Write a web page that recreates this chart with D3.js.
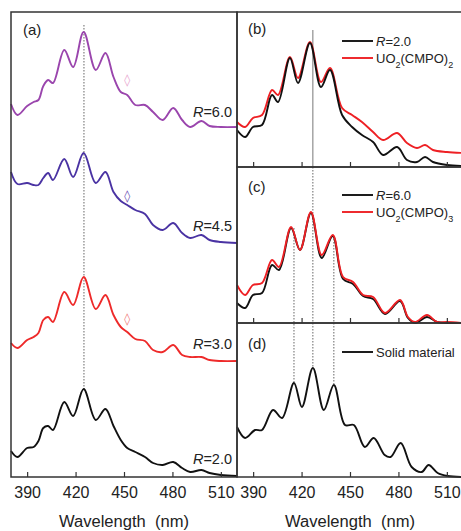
<!DOCTYPE html>
<meta charset="utf-8">
<script src="https://d3js.org/d3.v7.js"></script>
<style>
  body { margin: 0; background: #fff; }
  text { font-family: "Liberation Sans", Arial, sans-serif; fill: #222; }
</style>
<svg id="chart" width="461" height="531"></svg>

<script>
    // ---- data (intensity in arbitrary units) ----
    const ticks = [390, 420, 450, 480, 510];

    // panel (a): four stacked spectra on a shared wavelength grid
    const wlA = [380, 384, 390, 394, 397, 400, 403, 406, 413, 418.5, 425, 432.5, 438.5, 443.5, 448, 452, 457, 463, 468, 474, 480.5, 486, 491, 498, 503, 510, 520];
    const r60 = [23, 12, 21, 25, 27, 41, 47, 44, 77, 60, 95, 57, 74, 50, 35, 32, 22, 22, 15, 7, 19, 7, 0, 6, 1, 0, 0];
    const r45 = [71, 59, 60, 58, 58, 65, 70, 63, 84, 66, 90, 60, 71, 51, 42, 38, 33, 29, 18, 13, 20, 10, 5, 8, 3, 1, 0];
    const r30 = [18, 13, 21, 24, 28, 41, 44, 39, 69, 56, 84, 52, 66, 46, 34, 29, 22, 20, 11, 9, 16, 6, 4, 4, 1, 0, 0];
    const r20 = [26, 20, 29, 30, 36, 49, 51, 47, 75, 61, 88, 57, 68, 51, 37, 29, 25, 20, 14, 12, 15, 9, 5, 7, 4, 2, 1];
    const offsetsA = {r20: 0, r30: 116, r45: 234, r60: 350};
    const markA = 425.2;

    // panel (b)
    const wlB = [380, 385, 389.9, 395.5, 401.7, 405.4, 412.8, 417.8, 425.2, 432, 437.6, 445.1, 451.3, 457.4, 464.3, 470.5, 479.2, 485.3, 491.5, 496.5, 501.4, 510.1, 520];
    const bR20 = [37, 30, 40, 42, 72, 65, 109, 84, 124, 80, 97, 52, 40, 32, 25, 12, 20, 7, 5, 10, 5, 2, 1];
    const bUO2 = [45, 40, 49, 52, 77, 72, 110, 89, 125, 85, 99, 59, 52, 45, 35, 27, 34, 24, 19, 22, 17, 15, 14];

    // panel (c)
    const wlC = [380, 385, 389.9, 395.5, 401.7, 406, 413.5, 419, 425.8, 432.5, 439.3, 445.7, 451.9, 458.1, 464.3, 471.7, 481, 485.9, 490.3, 497.7, 503.9, 510.1, 520];
    const cR60 = [20, 15, 28, 30, 58, 53, 95, 73, 110, 65, 87, 44, 39, 27, 24, 9, 22, 5, 0, 6, 1, 0, 0];
    const cUO3 = [38, 28, 38, 40, 63, 56, 96, 73, 111, 68, 88, 46, 41, 28, 26, 10, 23, 6, 1, 8, 1, 1, 0];

    // panel (d)
    const wlD = [380, 385, 391.2, 395.5, 402.3, 407.9, 415.3, 420.2, 427, 433.8, 440, 446.9, 452.4, 459.2, 464.7, 471.5, 475.2, 481.4, 488.2, 494.4, 498.7, 504.3, 510.5, 520];
    const dSolid = [50, 39, 47, 47, 67, 59, 94, 70, 109, 67, 92, 52, 52, 30, 39, 22, 20, 34, 10, 5, 12, 4, 1, 0];
    const marksD = [415.3, 427, 440];

    // ---- layout ----
    const svg = d3.select('#chart');
    const W = 461, H = 531;
    const xA = d3.scaleLinear().domain([380, 520]).range([11, 237]);
    const xR = d3.scaleLinear().domain([380, 520]).range([237, 463]);
    const yA = d3.scaleLinear().domain([0, 465]).range([477, 12]);
    const yB = d3.scaleLinear().domain([0, 155]).range([167, 12]);
    const yC = d3.scaleLinear().domain([0, 156]).range([323, 167]);
    const yD = d3.scaleLinear().domain([0, 154]).range([477, 323]);

    const colors = {r60: '#9a45ad', r45: '#4a33a3', r30: '#ee2a2a', r20: '#111', red: '#ee2024'};

    svg.append('rect').attr('width', W).attr('height', H).attr('fill', '#fff');

    function curve(x, y, wl, vals, off, color, width) {
        const line = d3.line()
            .x((d, i) => x(wl[i]))
            .y(d => y(d + off))
            .curve(d3.curveCatmullRom.alpha(0.5));
        svg.append('path')
            .datum(vals)
            .attr('d', line)
            .attr('fill', 'none')
            .attr('stroke', color)
            .attr('stroke-width', width || 1.9)
            .attr('stroke-linejoin', 'round');
    }

    function axis(x, y, labels) {
        const g = svg.append('g')
            .attr('transform', `translate(0,${y.range()[0]})`)
            .call(d3.axisBottom(x).tickValues(ticks).tickSize(-5).tickPadding(10)
                .tickFormat(labels ? d3.format('d') : ''));
        g.select('.domain').remove();
        g.selectAll('line').attr('stroke', '#333').attr('stroke-width', 1.2);
        g.selectAll('text').attr('font-size', 16).attr('fill', '#222')
            .style('font-family', '"Liberation Sans", Arial, sans-serif');
    }

    // ---- panel (a) ----
    svg.append('line')
        .attr('x1', xA(markA)).attr('x2', xA(markA))
        .attr('y1', yA(452)).attr('y2', yA(88))
        .attr('stroke', '#666').attr('stroke-width', 1).attr('stroke-dasharray', '1.5,1.5');

    curve(xA, yA, wlA, r60, offsetsA.r60, colors.r60);
    curve(xA, yA, wlA, r45, offsetsA.r45, colors.r45);
    curve(xA, yA, wlA, r30, offsetsA.r30, colors.r30);
    curve(xA, yA, wlA, r20, offsetsA.r20, colors.r20);

    // small diamond marks on curves
    [[offsetsA.r60 + 47, '#e8a6cf'], [offsetsA.r45 + 47, '#6a4fb5'], [offsetsA.r30 + 42, '#f08080']].forEach(([v, c]) => {
        svg.append('text').attr('x', xA(452)).attr('y', yA(v) + 4)
            .attr('text-anchor', 'middle').attr('font-size', 12)
            .style('font-family', '"DejaVu Sans", sans-serif')
            .style('fill', c).text('\u25CA');
    });

    const rLabels = [['6.0', 117], ['4.5', 231], ['3.0', 349], ['2.0', 464]];
    rLabels.forEach(([t, yy]) => {
        const tx = svg.append('text').attr('x', 232).attr('y', yy).attr('text-anchor', 'end').attr('font-size', 14.5);
        tx.append('tspan').attr('font-style', 'italic').text('R');
        tx.append('tspan').text('=' + t);
    });
    svg.append('text').attr('x', 23).attr('y', 35).attr('font-size', 15).text('(a)');
    axis(xA, yA, true);

    // ---- panel (b) ----
    svg.append('line')
        .attr('x1', xR(427)).attr('x2', xR(427))
        .attr('y1', yB(137)).attr('y2', yB(0))
        .attr('stroke', '#555').attr('stroke-width', 0.8);
    curve(xR, yB, wlB, bUO2, 0, colors.red);
    curve(xR, yB, wlB, bR20, 0, colors.r20);
    axis(xR, yB, false);
    svg.append('text').attr('x', 248).attr('y', 34).attr('font-size', 15).text('(b)');

    // ---- panel (c) & (d) guide lines ----
    const cPeaks = [95, 110, 87], dPeaks = [94, 109, 92];
    marksD.forEach((m, i) => {
        svg.append('line')
            .attr('x1', xR(m)).attr('x2', xR(m))
            .attr('y1', i === 1 ? yC(156) : yC(cPeaks[i])).attr('y2', yD(dPeaks[i]))
            .attr('stroke', '#666').attr('stroke-width', 1).attr('stroke-dasharray', '1.5,1.5');
    });

    curve(xR, yC, wlC, cR60, 0, colors.r20);
    curve(xR, yC, wlC, cUO3, 0, colors.red);
    axis(xR, yC, false);
    svg.append('text').attr('x', 248).attr('y', 192).attr('font-size', 15).text('(c)');

    curve(xR, yD, wlD, dSolid, 0, colors.r20);
    axis(xR, yD, true);
    svg.append('text').attr('x', 248).attr('y', 349).attr('font-size', 15).text('(d)');

    // ---- legends ----
    function legendRow(y, color, parts) {
        svg.append('line').attr('x1', 342).attr('x2', 373).attr('y1', y).attr('y2', y)
            .attr('stroke', color).attr('stroke-width', 1.9);
        const t = svg.append('text').attr('x', 376).attr('y', y + 5).attr('font-size', 13);
        parts.forEach(([s, style]) => {
            const sp = t.append('tspan').text(s);
            if (style === 'i') sp.attr('font-style', 'italic');
            if (style === 'sub') sp.attr('font-size', 9).attr('baseline-shift', 'sub');
        });
    }
    legendRow(41, colors.r20, [['R', 'i'], ['=2.0']]);
    legendRow(58, colors.red, [['UO'], ['2', 'sub'], ['(CMPO)'], ['2', 'sub']]);
    legendRow(195, colors.r20, [['R', 'i'], ['=6.0']]);
    legendRow(212, colors.red, [['UO'], ['2', 'sub'], ['(CMPO)'], ['3', 'sub']]);
    legendRow(352, colors.r20, [['Solid material']]);

    // ---- frames ----
    const frame = svg.append('g').attr('fill', 'none').attr('stroke', '#333').attr('stroke-width', 1.5);
    frame.append('rect').attr('x', 11).attr('y', 12).attr('width', 226).attr('height', 465);
    frame.append('rect').attr('x', 237).attr('y', 12).attr('width', 226).attr('height', 155);
    frame.append('rect').attr('x', 237).attr('y', 167).attr('width', 226).attr('height', 156);
    frame.append('rect').attr('x', 237).attr('y', 323).attr('width', 226).attr('height', 154);

    // ---- axis titles ----
    [xA, xR].forEach(x => {
        svg.append('text').attr('x', x(450)).attr('y', 527).attr('text-anchor', 'middle')
            .attr('font-size', 16).attr('textLength', 130).attr('lengthAdjust', 'spacingAndGlyphs')
            .attr('xml:space', 'preserve').text('Wavelength  (nm)');
    });
</script>
